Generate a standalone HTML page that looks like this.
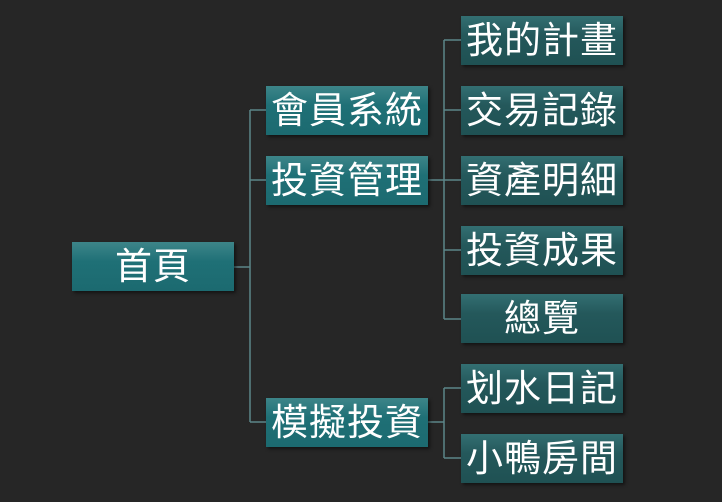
<!DOCTYPE html>
<html><head><meta charset="utf-8"><style>
body{margin:0;width:722px;height:502px;background:#262626;position:relative;overflow:hidden;font-family:"Liberation Sans","Noto Sans CJK TC",sans-serif;}
.b{position:absolute;height:49px;color:#fff;font-size:37px;line-height:49px;text-align:center;letter-spacing:1px;box-shadow:2px 2px 3px rgba(0,0,0,.5);}
.l{width:162px;background:linear-gradient(#3d8589,#1f7076 40%,#1c6a70);}
.r{left:461px;width:162px;background:linear-gradient(#336f72,#24585b 40%,#1f5153);}
svg{position:absolute;left:0;top:0}
</style></head><body>
<svg width="722" height="502"><g stroke="#5c8589" stroke-width="1.5" fill="none">
<path d="M234 267H250M250 110V422M250 110H266M250 180H266M250 422H266"/>
<path d="M428 180H461M444 40V319M444 40H461M444 110H461M444 250H461M444 319H461"/>
<path d="M428 422H444M444 388V458M444 388H461M444 458H461"/>
</g></svg>
<div class="b l" style="left:72px;top:242px">首頁</div>
<div class="b l" style="left:266px;top:86px">會員系統</div>
<div class="b l" style="left:266px;top:156px">投資管理</div>
<div class="b l" style="left:266px;top:398px">模擬投資</div>
<div class="b r" style="top:16px">我的計畫</div>
<div class="b r" style="top:86px">交易記錄</div>
<div class="b r" style="top:156px">資產明細</div>
<div class="b r" style="top:226px">投資成果</div>
<div class="b r" style="top:294px">總覽</div>
<div class="b r" style="top:364px">划水日記</div>
<div class="b r" style="top:434px">小鴨房間</div>
</body></html>
